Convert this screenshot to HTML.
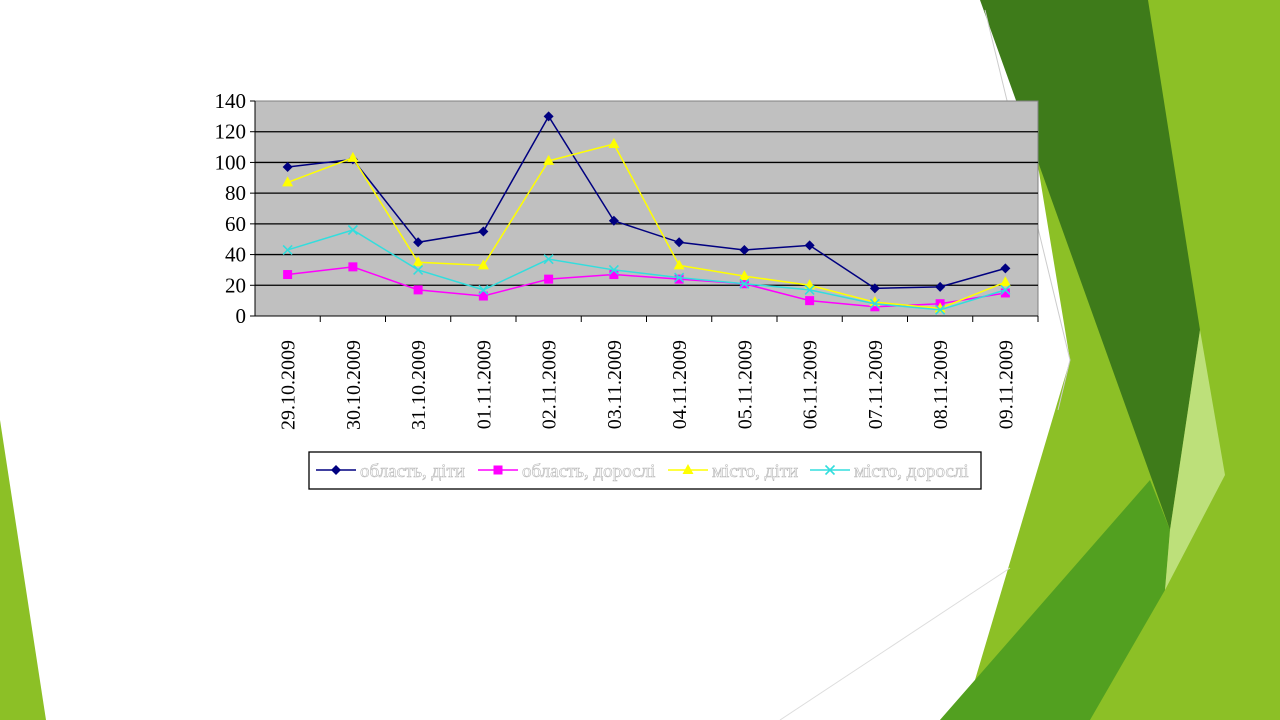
<!DOCTYPE html>
<html><head><meta charset="utf-8"><style>
body{margin:0;width:1280px;height:720px;overflow:hidden;background:#fff;font-family:"Liberation Serif",serif}
svg{position:absolute;left:0;top:0}
</style></head><body>
<svg width="1280" height="720">
<polygon points="0,420 0,720 46,720" fill="#8cc026"/>
<polygon points="1148,0 1280,0 1280,720 940,720 975,680 1070,360 1037,160" fill="#8cc026"/>
<polygon points="980,0 1148,0 1200,330 1170,530" fill="#3e7b1a"/>
<polygon points="940,720 1150,480 1170,530 1165,590 1090,720" fill="#52a020"/>
<polygon points="1200,330 1225,475 1165,590 1170,530" fill="#bde07a"/>
<polyline points="985,10 1070,360 1058,410" fill="none" stroke="#ccc" stroke-width="1"/>
<line x1="780" y1="720" x2="1010" y2="568" stroke="#ddd"/>
<g id="chart"></g>
</svg>
<script>
const categories=["29.10.2009","30.10.2009","31.10.2009","01.11.2009","02.11.2009","03.11.2009","04.11.2009","05.11.2009","06.11.2009","07.11.2009","08.11.2009","09.11.2009"];
const oblKids=[97,102,48,55,130,62,48,43,46,18,19,31];
const oblAdults=[27,32,17,13,24,27,24,21,10,6,8,15];
const cityKids=[87,103,35,33,101,112,33,26,20,9,5,22];
const cityAdults=[43,56,30,17,37,30,25,21,17,8,4,17];
const yTicks=[0,20,40,60,80,100,120,140];
const seriesNames=["область, діти","область, дорослі","місто, діти","місто, дорослі"];
const NS="http://www.w3.org/2000/svg";
const g=document.getElementById('chart');
const L=255,R=1038,T=101,B=316,yMax=140;
const xs=i=>L+(R-L)/categories.length*(i+0.5);
const ys=v=>B-(B-T)*v/yMax;
function mk(t,a,p){const e=document.createElementNS(NS,t);for(const k in a)e.setAttribute(k,a[k]);(p||g).appendChild(e);return e;}
let e=mk('rect',{x:L,y:T,width:R-L,height:B-T,fill:'#c0c0c0',stroke:'#808080'});


yTicks.forEach(v=>{
 if(v>0&&v<yMax){const l=mk('line',{x1:L,x2:R,y1:ys(v),y2:ys(v),stroke:'#000','stroke-width':1.3});
 
 }
 mk('line',{x1:L-5,x2:L,y1:ys(v),y2:ys(v),stroke:'#000'});
 const t=mk('text',{x:L-9,y:ys(v)+7,'text-anchor':'end','font-size':21});t.textContent=v;
 
 
});
mk('line',{x1:L,x2:L,y1:T,y2:B,stroke:'#000'});
mk('line',{x1:L,x2:R,y1:B,y2:B,stroke:'#000'});
categories.forEach((c,i)=>{
 const xb=L+(R-L)/categories.length*(i+1);
 mk('line',{x1:xb,x2:xb,y1:B,y2:B+6,stroke:'#000'});
 const t=mk('text',{x:0,y:0,'text-anchor':'end','font-size':20,transform:`translate(${xs(i)+7},${B+24}) rotate(-90)`});t.textContent=c;
 
 
});
function marker(type,x,y,col,p){
 if(type==='d')return mk('polygon',{points:`${x},${y-5} ${x+5},${y} ${x},${y+5} ${x-5},${y}`,fill:col},p);
 if(type==='s')return mk('rect',{x:x-4.5,y:y-4.5,width:9,height:9,fill:col},p);
 if(type==='t')return mk('polygon',{points:`${x},${y-6} ${x+5.5},${y+4} ${x-5.5},${y+4}`,fill:col},p);
 const gg=mk('g',{stroke:col,'stroke-width':1.6},p);
 mk('line',{x1:x-4.5,y1:y-4.5,x2:x+4.5,y2:y+4.5},gg);mk('line',{x1:x-4.5,y1:y+4.5,x2:x+4.5,y2:y-4.5},gg);return gg;
}
const series=[[oblKids,'#000080','d'],[oblAdults,'#ff00ff','s'],[cityKids,'#ffff00','t'],[cityAdults,'#33dddd','x']];
series.forEach(([d,col,m],si)=>{
 const pl=mk('polyline',{points:d.map((v,i)=>xs(i)+','+ys(v)).join(' '),fill:'none',stroke:col,'stroke-width':1.5});
 
 
 d.forEach((v,i)=>{const mm=marker(m,xs(i),ys(v),col);
 
 });
});
const lg=mk('g',{});


mk('rect',{x:309,y:452,width:672,height:37,fill:'#fff',stroke:'#000','stroke-width':1.3},lg);
const lx=[316,478,668,810];
series.forEach(([d,col,m],si)=>{
 mk('line',{x1:lx[si],x2:lx[si]+40,y1:470,y2:470,stroke:col,'stroke-width':1.5},lg);
 marker(m,lx[si]+20,470,col,lg);
 const t=mk('text',{x:lx[si]+44,y:477,'font-size':19,fill:'#fff',stroke:'#b8b8b8','stroke-width':0.6},lg);t.textContent=seriesNames[si];
 
 
});
</script>
</body></html>
